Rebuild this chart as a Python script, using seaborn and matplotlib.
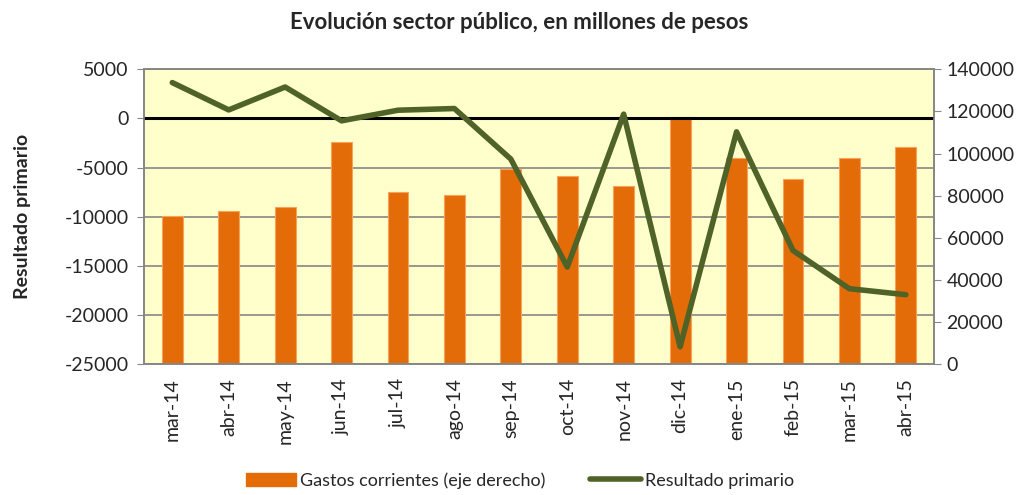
# Evolución sector público, en millones de pesos
import numpy as np
import pandas as pd
import matplotlib
matplotlib.use("Agg")
import matplotlib.pyplot as plt
from matplotlib.patches import Patch
from matplotlib.lines import Line2D
import seaborn as sns

sns.set_style("white")
plt.rcParams['font.family'] = ['Lato', 'DejaVu Sans']

# Data
meses = ['mar-14', 'abr-14', 'may-14', 'jun-14', 'jul-14', 'ago-14', 'sep-14',
         'oct-14', 'nov-14', 'dic-14', 'ene-15', 'feb-15', 'mar-15', 'abr-15']
gastos_corrientes = [70400, 72800, 74600, 105400, 82000, 80200, 92900,
                     89600, 84500, 117300, 97800, 88000, 97800, 102900]
resultado_primario = [3650, 870, 3200, -240, 840, 1010, -4130,
                      -15110, 440, -23220, -1360, -13420, -17310, -17920]
left_ticks = [5000, 0, -5000, -10000, -15000, -20000, -25000]
right_ticks = [0, 20000, 40000, 60000, 80000, 100000, 120000, 140000]

df = pd.DataFrame({'mes': meses, 'gastos': gastos_corrientes,
                   'resultado': resultado_primario})

bar_color = '#E36C09'
line_color = '#4F6228'
grid_color = '#868686'

fig = plt.figure(figsize=(10.29, 4.95), dpi=100)
ax = fig.add_axes([0.14, 0.264, 0.7677, 0.596])   # left scale: resultado
ax2 = ax.twinx()                                   # right scale: gastos

# bars behind the line
ax.set_zorder(ax2.get_zorder() + 1)
ax.patch.set_visible(False)
ax2.patch.set_visible(True)
ax2.patch.set_facecolor('#FFFFCC')

ax.set_ylim(-25000, 5000)
ax2.set_ylim(0, 140000)

# gridlines follow the left scale but sit under the bars
ax2.hlines(left_ticks, 0, 1, transform=ax.get_yaxis_transform(),
           colors=grid_color, linewidth=1.2, zorder=0)

sns.barplot(data=df, x='mes', y='gastos', ax=ax2, color=bar_color,
            width=0.37, edgecolor='#F7A25A', linewidth=0.8, saturation=1,
            zorder=2)

ax.axhline(0, color='black', linewidth=2.2, zorder=1)
sns.lineplot(data=df, x='mes', y='resultado', ax=ax, color=line_color,
             linewidth=4, sort=False, zorder=3)
ax.lines[-1].set_solid_capstyle('round')

ax.set_xlim(-0.5, len(meses) - 0.5)
ax2.set_xlim(-0.5, len(meses) - 0.5)

ax.set_yticks(left_ticks)
ax.set_yticklabels([str(v) for v in left_ticks], fontsize=14)
ax2.set_yticks(right_ticks)
ax2.set_yticklabels([str(v) for v in right_ticks], fontsize=14)
ax.set_xticks(range(len(meses)))
ax.set_xticklabels(meses, rotation=90, fontsize=14)
ax2.set_xlabel('')
ax.set_xlabel('')
ax2.set_ylabel('')
ax.set_ylabel('Resultado primario', fontsize=14, fontweight='bold', labelpad=24)

for a in (ax, ax2):
    for s in a.spines.values():
        s.set_color(grid_color)
        s.set_linewidth(1.2)
ax.tick_params(axis='y', length=5, color=grid_color, pad=6, direction='out', left=True)
ax2.tick_params(axis='y', length=5, color=grid_color, pad=4, direction='out', right=True)
ax.tick_params(axis='x', length=0, pad=10)

fig.suptitle('Evolución sector público, en millones de pesos', x=0.505, y=0.975,
             fontsize=16, fontweight='bold')

handles = [Patch(facecolor=bar_color, edgecolor=bar_color),
           Line2D([0], [0], color=line_color, linewidth=4, solid_capstyle='round')]
fig.legend(handles, ['Gastos corrientes (eje derecho)', 'Resultado primario'],
           loc='lower center', bbox_to_anchor=(0.505, -0.02), ncol=2, frameon=False,
           fontsize=13, handlelength=2.8, handletextpad=0.2, columnspacing=2.5)

fig.savefig('out.png', dpi=100)
